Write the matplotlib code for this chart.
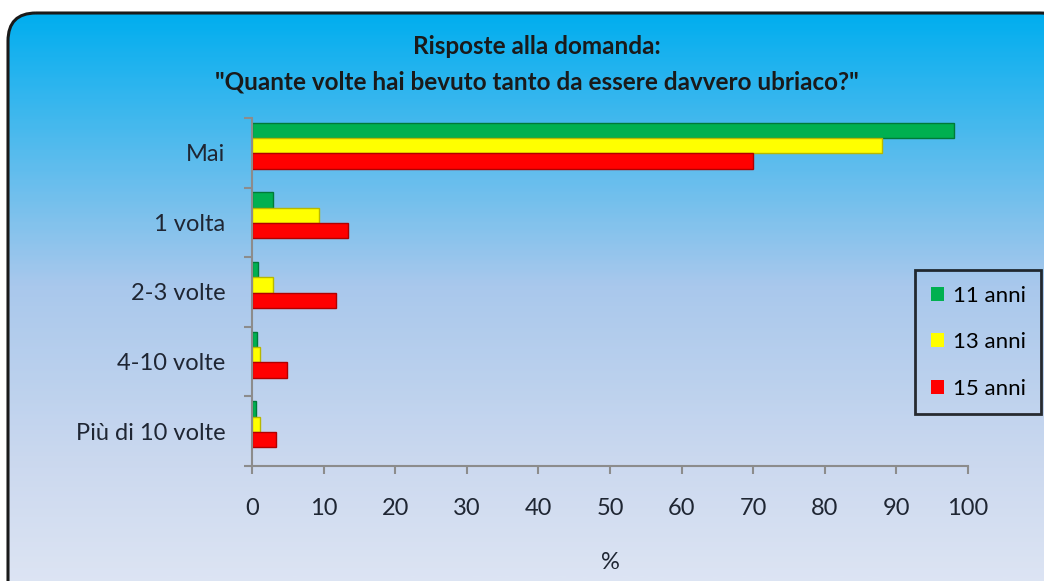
import numpy as np
import matplotlib
matplotlib.use("Agg")
from matplotlib import pyplot as plt
from matplotlib.patches import FancyBboxPatch
from matplotlib.colors import LinearSegmentedColormap

categories = ["Mai", "1 volta", "2-3 volte", "4-10 volte", "Più di 10 volte"]
series_names = ["11 anni", "13 anni", "15 anni"]
anni_11 = [98, 3.0, 0.9, 0.7, 0.6]
anni_13 = [88, 9.4, 3.0, 1.1, 1.1]
anni_15 = [70, 13.4, 11.8, 4.9, 3.3]
x_ticks = list(range(0, 101, 10))

colors = ["#00b050", "#ffff00", "#ff0000"]
edges = ["#007a38", "#b8b800", "#b00000"]
txt = "#1f2633"

plt.rcParams['font.family'] = ['Lato', 'DejaVu Sans']

fig = plt.figure(figsize=(10.44, 5.81), dpi=100)

# background gradient panel with rounded border
bg = fig.add_axes([0, 0, 1, 1], zorder=0)
bg.set_xlim(0, 1044)
bg.set_ylim(581, 0)
bg.axis("off")
cmap = LinearSegmentedColormap.from_list(
    "bg", [(0, "#00aeef"), (0.45, "#a9c8ec"), (0.75, "#ccd9ef"), (1, "#e2e8f5")])
grad = np.linspace(0, 1, 300).reshape(-1, 1)
img = bg.imshow(grad, cmap=cmap, aspect="auto", extent=[0, 1044, 620, 12])
frame = FancyBboxPatch((8, 13), 1060, 620, boxstyle="round,pad=0,rounding_size=28",
                       facecolor="none", edgecolor="#1a1a1a", linewidth=2.2)
bg.add_patch(frame)
img.set_clip_path(frame)

ax = fig.add_axes([252 / 1044, 1 - 466 / 581, 716 / 1044, 348 / 581], zorder=1)
ax.patch.set_alpha(0)

y = np.arange(len(categories))
h = 0.22
for i, vals in enumerate([anni_11, anni_13, anni_15]):
    ax.barh(y + (i - 1) * h - 0.1, vals, height=h, color=colors[i],
            edgecolor=edges[i], linewidth=1.0, label=series_names[i])

ax.set_xlim(0, 100)
ax.set_ylim(len(categories) - 0.5, -0.5)
ax.set_xticks(x_ticks)
ax.set_yticks(y)
ax.set_yticklabels(categories)
ax.set_yticks(np.arange(len(categories) + 1) - 0.5, minor=True)

for s in ["top", "right"]:
    ax.spines[s].set_visible(False)
for s in ["left", "bottom"]:
    ax.spines[s].set_color("#8c8c8c")
    ax.spines[s].set_linewidth(1.5)

ax.tick_params(axis="y", which="major", length=0, pad=19, labelsize=17, labelcolor=txt)
ax.tick_params(axis="y", which="minor", length=6, width=1.5, color="#8c8c8c")
ax.tick_params(axis="x", length=6, width=1.5, color="#8c8c8c", pad=17,
               labelsize=17, labelcolor=txt)
ax.set_xlabel("%", fontsize=17, color=txt, labelpad=24)

fig.text(0.514, 1 - 47 / 581, "Risposte alla domanda:", ha="center", va="center",
         fontsize=17.5, fontweight="bold", color="#1a1a1a")
fig.text(0.514, 1 - 82 / 581, "\"Quante volte hai bevuto tanto da essere davvero ubriaco?\"",
         ha="center", va="center", fontsize=17.5, fontweight="bold", color="#1a1a1a")

leg = ax.legend(loc="upper left", bbox_to_anchor=(915 / 1044, 1 - 270 / 581),
                bbox_transform=fig.transFigure, fontsize=16, frameon=True,
                fancybox=False, handlelength=0.6, handleheight=0.6, handletextpad=0.4,
                labelspacing=1.2, borderpad=0.7, borderaxespad=0)
leg.get_frame().set_edgecolor("#000000")
leg.get_frame().set_linewidth(2)
leg.get_frame().set_facecolor("none")
for hnd in leg.legend_handles:
    hnd.set_edgecolor("none")

fig.savefig("out.png", dpi=100)
